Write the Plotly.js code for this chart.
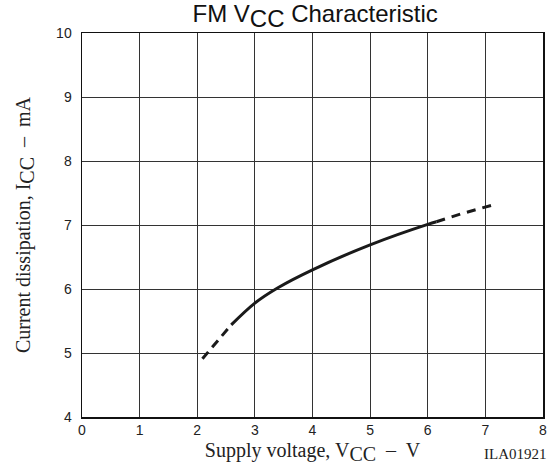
<!DOCTYPE html>
<html>
<head>
<meta charset="utf-8">
<script src="https://cdn.plot.ly/plotly-3.0.1.min.js"></script>
<style>html,body{margin:0;padding:0;background:#fff;}#chart{width:551px;height:470px;}</style>
</head>
<body>
<div id="chart"></div>
<script>
// Extrapolated (dashed) low-voltage segment
const vccLow = [2.09, 2.35, 2.59];
const iccLow = [4.91, 5.18, 5.44];
// Measured (solid) segment
const vccMain = [2.59, 3.0, 3.4, 4.0, 5.0, 6.0, 6.15];
const iccMain = [5.44, 5.78, 6.02, 6.30, 6.69, 7.01, 7.05];
// Extrapolated (dashed) high-voltage segment
const vccHigh = [6.15, 6.6, 7.12];
const iccHigh = [7.05, 7.18, 7.31];

const xTicks = [0, 1, 2, 3, 4, 5, 6, 7, 8];
const yTicks = [4, 5, 6, 7, 8, 9, 10];

const sans = 'Liberation Sans, Arial, sans-serif';
const serif = 'Liberation Serif, Times New Roman, serif';
const lineColor = '#1a1a1a';
const traces = [
  {x: vccLow, y: iccLow, mode: 'lines', line: {color: lineColor, width: 3, dash: '9px,6px'}, hoverinfo: 'skip'},
  {x: vccMain, y: iccMain, mode: 'lines', line: {color: lineColor, width: 3, shape: 'spline', smoothing: 1}, hoverinfo: 'skip'},
  {x: vccHigh, y: iccHigh, mode: 'lines', line: {color: lineColor, width: 3, dash: '9px,7px'}, hoverinfo: 'skip'}
];

const sub = (t, px) => '<sub><span style="font-size:' + px + 'px">' + t + '</span></sub>';

const layout = {
  width: 551, height: 470,
  margin: {l: 82, r: 8, t: 33, b: 53},
  paper_bgcolor: '#fff', plot_bgcolor: '#fff',
  showlegend: false,
  title: {text: 'FM V' + sub('CC', 24) + ' Characteristic', font: {family: sans, size: 24, color: '#111'}, x: 0.572, xanchor: 'center', y: 0.988, yanchor: 'top'},
  xaxis: {
    range: [0, 8], tickvals: xTicks, ticktext: xTicks.map(String),
    showgrid: true, gridcolor: '#333', gridwidth: 1,
    showline: true, linecolor: '#111', linewidth: 1.5, mirror: true,
    zeroline: false, ticks: '', fixedrange: true,
    tickfont: {family: sans, size: 14, color: '#222'},
    title: {text: 'Supply voltage, V' + sub('CC', 20) + '\u00a0 –\u00a0 V', font: {family: serif, size: 20, color: '#222'}, standoff: 5}
  },
  yaxis: {
    range: [4, 10], tickvals: yTicks, ticktext: yTicks.map(String),
    showgrid: true, gridcolor: '#333', gridwidth: 1,
    showline: true, linecolor: '#111', linewidth: 1.5, mirror: true,
    zeroline: false, ticks: '', fixedrange: true, ticklabelstandoff: 6,
    tickfont: {family: sans, size: 14, color: '#222'},
    title: {text: 'Current dissipation, I' + sub('CC', 20) + '\u00a0 –\u00a0 mA', font: {family: serif, size: 20, color: '#222'}, standoff: 20}
  },
  annotations: [
    {text: 'ILA01921', xref: 'paper', yref: 'paper', x: 1.012, y: -0.07, xanchor: 'right', yanchor: 'top', showarrow: false,
     font: {family: serif, size: 15, color: '#222'}}
  ]
};

Plotly.newPlot('chart', traces, layout, {displayModeBar: false, staticPlot: true});
</script>
</body>
</html>
